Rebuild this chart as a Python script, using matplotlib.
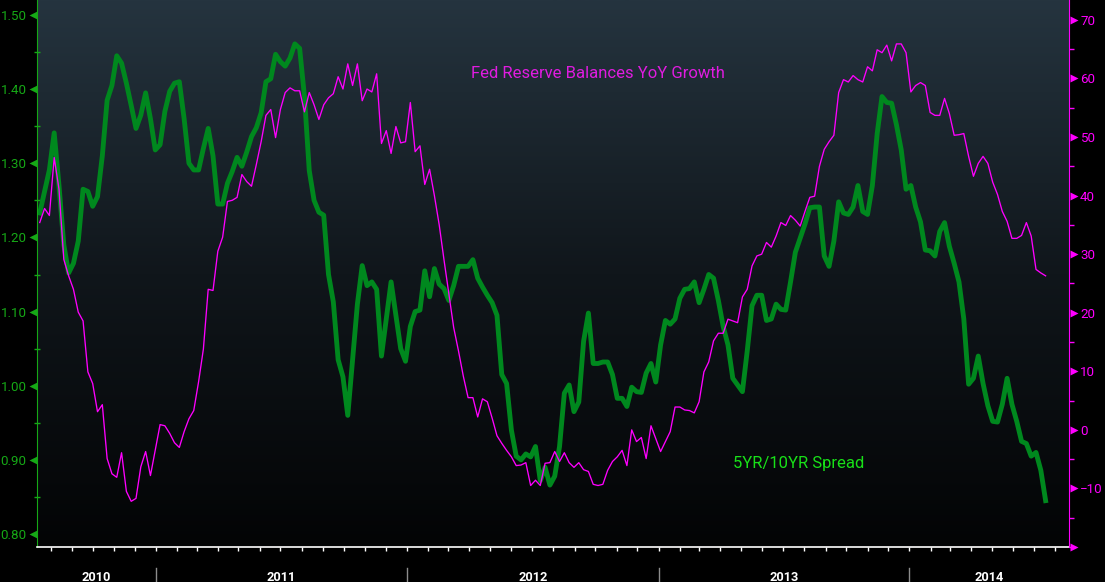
import matplotlib
matplotlib.use('Agg')
import matplotlib.pyplot as plt
import matplotlib.dates as mdates
import matplotlib.transforms as mtransforms
from matplotlib.colors import LinearSegmentedColormap
from matplotlib.ticker import FixedLocator, MultipleLocator, FormatStrFormatter
import numpy as np
import pandas as pd

plt.rcParams['font.family'] = ['Roboto', 'DejaVu Sans']

week_start = '2010-07-16'
n_weeks = 210

spread_5y10y = [
    1.233, 1.262, 1.291, 1.341, 1.27, 1.19, 1.152, 1.165, 1.195, 1.265,
    1.262, 1.242, 1.255, 1.31, 1.385, 1.405, 1.445, 1.435, 1.408, 1.378,
    1.347, 1.365, 1.395, 1.36, 1.318, 1.325, 1.37, 1.397, 1.408, 1.41,
    1.36, 1.30, 1.291, 1.291, 1.32, 1.347, 1.31, 1.245, 1.245, 1.273,
    1.289, 1.308, 1.296, 1.315, 1.336, 1.348, 1.368, 1.41, 1.414, 1.447,
    1.437, 1.431, 1.442, 1.461, 1.455, 1.39, 1.29, 1.25, 1.234, 1.23,
    1.15, 1.113, 1.035, 1.012, 0.96, 1.035, 1.11, 1.162, 1.135, 1.14,
    1.13, 1.04, 1.09, 1.14, 1.095, 1.05, 1.033, 1.08, 1.10, 1.102,
    1.155, 1.12, 1.158, 1.137, 1.131, 1.115, 1.135, 1.161, 1.161, 1.161,
    1.17, 1.145, 1.133, 1.122, 1.112, 1.095, 1.015, 1.003, 0.94, 0.905,
    0.90, 0.908, 0.904, 0.918, 0.872, 0.89, 0.866, 0.878, 0.918, 0.99,
    1.001, 0.965, 0.978, 1.06, 1.098, 1.03, 1.03, 1.032, 1.032, 1.015,
    0.983, 0.983, 0.972, 0.998, 0.992, 0.991, 1.017, 1.03, 1.005, 1.055,
    1.088, 1.083, 1.09, 1.118, 1.13, 1.131, 1.14, 1.112, 1.13, 1.15,
    1.145, 1.115, 1.08, 1.055, 1.01, 1.001, 0.992, 1.047, 1.108, 1.122,
    1.122, 1.088, 1.09, 1.11, 1.103, 1.102, 1.14, 1.18, 1.199, 1.218,
    1.24, 1.241, 1.241, 1.175, 1.161, 1.195, 1.248, 1.233, 1.231, 1.241,
    1.27, 1.235, 1.231, 1.27, 1.34, 1.39, 1.382, 1.381, 1.352, 1.318,
    1.265, 1.27, 1.241, 1.221, 1.183, 1.182, 1.175, 1.208, 1.22, 1.188,
    1.165, 1.14, 1.09, 1.002, 1.01, 1.04, 1.003, 0.973, 0.952, 0.951,
    0.975, 1.01, 0.975, 0.952, 0.925, 0.922, 0.905, 0.91, 0.886, 0.845,
]

fed_balances_yoy = [
    35.4, 37.8, 36.6, 46.5, 41.1, 29.1, 26.3, 24.0, 20.1, 18.6,
    9.9, 7.9, 3.1, 4.3, -4.9, -7.5, -8.1, -3.9, -10.5, -12.2,
    -11.7, -6.3, -3.7, -7.8, -3.5, 0.9, 0.7, -0.6, -2.2, -3.0,
    -0.3, 1.9, 3.3, 8.2, 13.8, 24.0, 23.8, 30.5, 32.9, 39.0,
    39.2, 39.7, 43.6, 42.4, 41.6, 45.3, 49.2, 53.7, 54.7, 49.9,
    54.7, 57.6, 58.4, 57.9, 57.9, 54.3, 57.6, 55.5, 53.0, 55.5,
    56.7, 57.4, 60.3, 58.2, 62.5, 58.8, 62.5, 56.2, 58.2, 57.7,
    60.8, 48.9, 51.1, 47.2, 51.8, 49.0, 49.2, 55.9, 47.5, 48.5,
    41.9, 44.5, 40.0, 35.0, 29.0, 23.2, 17.5, 13.5, 9.2, 5.5,
    5.5, 2.2, 5.3, 4.8, 2.0, -1.0, -2.3, -3.5, -4.6, -6.1,
    -6.0, -5.6, -9.5, -8.6, -9.5, -5.7, -5.6, -3.7, -5.4, -3.9,
    -5.6, -6.4, -5.6, -6.8, -7.1, -9.3, -9.5, -9.3, -6.9, -5.4,
    -4.6, -3.5, -6.1, 0.0, -2.0, -1.3, -4.9, 0.7, -1.5, -3.7,
    -2.0, -0.3, 3.9, 3.9, 3.4, 3.3, 2.9, 4.8, 9.9, 11.6,
    15.2, 16.5, 16.5, 18.9, 18.6, 18.3, 22.7, 24.0, 28.0, 29.7,
    30.0, 32.0, 31.2, 33.1, 35.4, 34.9, 36.6, 35.8, 34.8, 37.3,
    39.7, 39.9, 45.0, 47.9, 49.2, 50.3, 57.6, 59.8, 59.4, 60.5,
    59.8, 59.4, 62.0, 61.3, 64.9, 64.4, 65.7, 63.0, 65.9, 65.9,
    64.4, 57.7, 58.8, 59.3, 58.8, 54.2, 53.7, 53.7, 56.6, 54.0,
    50.3, 50.4, 50.6, 46.7, 43.3, 45.5, 46.7, 45.5, 42.3, 40.2,
    37.3, 35.6, 32.7, 32.7, 33.2, 35.4, 33.1, 27.4, 26.8, 26.3,
]

years = [2010, 2011, 2012, 2013, 2014]
left_ticks = [0.80, 0.90, 1.00, 1.10, 1.20, 1.30, 1.40, 1.50]
right_ticks = [-20, -10, 0, 10, 20, 30, 40, 50, 60, 70]
right_labels = [-10, 0, 10, 20, 30, 40, 50, 60, 70]

dates = pd.date_range(week_start, periods=n_weeks, freq='7D')
x_start = pd.Timestamp('2010-07-12')
x_end = pd.Timestamp('2014-08-21')

green = '#00881e'
green_axis = '#16a816'
magenta = '#ff00ff'

#----figure + gradient background----#
fig = plt.figure(figsize=(11.05, 5.82), dpi=100, facecolor='black')
rect = [37 / 1105, 35 / 582, 1032 / 1105, 547 / 582]

bg = fig.add_axes(rect, zorder=0)
bg_cmap = LinearSegmentedColormap.from_list('bg', ['#030405', '#10161b', '#25343f'])
bg.imshow(np.linspace(1, 0, 256).reshape(-1, 1), cmap=bg_cmap, aspect='auto',
          extent=[0, 1, 0, 1])
bg.axis('off')

ax = fig.add_axes(rect, zorder=1)
ax.patch.set_visible(False)
ax.plot(dates, spread_5y10y, color=green, lw=3.5, solid_joinstyle='round')

ax2 = ax.twinx()
ax2.plot(dates, fed_balances_yoy, color=magenta, lw=0.95, solid_joinstyle='round')

#----spines----#
for s in ['top', 'right']:
    ax.spines[s].set_visible(False)
for s in ['top', 'left', 'bottom']:
    ax2.spines[s].set_visible(False)
ax.spines['left'].set_color(green_axis)
ax.spines['bottom'].set_color('white')
ax.spines['bottom'].set_linewidth(1.2)
ax2.spines['right'].set_color(magenta)

#----left axis----#
ax.yaxis.set_major_locator(FixedLocator(left_ticks))
ax.yaxis.set_major_formatter(FormatStrFormatter('%.2f'))
ax.yaxis.set_minor_locator(MultipleLocator(0.05))
ax.tick_params(axis='y', which='major', length=0, pad=7.5, labelcolor=green_axis,
               labelsize=9.6)
ax.tick_params(axis='y', which='minor', direction='inout', length=4, width=1,
               color=green_axis)

tri_left = mtransforms.offset_copy(
    mtransforms.blended_transform_factory(ax.transAxes, ax.transData),
    fig=fig, x=-4.5, y=0, units='dots')
ax.plot([0] * len(left_ticks), left_ticks, ls='none', marker='<', ms=5.4,
        color=green_axis, mec='none', transform=tri_left, clip_on=False, zorder=5)

#----right axis----#
ax2.yaxis.set_major_locator(FixedLocator(right_labels))
ax2.yaxis.set_minor_locator(MultipleLocator(5))
ax2.tick_params(axis='y', which='major', length=0, pad=8, labelcolor=magenta,
                labelsize=9.6)
ax2.tick_params(axis='y', which='minor', direction='out', length=3.5, width=1,
                color=magenta)

tri_right = mtransforms.offset_copy(
    mtransforms.blended_transform_factory(ax2.transAxes, ax2.transData),
    fig=fig, x=5, y=0, units='dots')
ax2.plot([1] * len(right_ticks), right_ticks, ls='none', marker='>', ms=5.4,
         color=magenta, mec='none', transform=tri_right, clip_on=False)

#----bottom axis: month ticks, year bands----#
ax.xaxis.set_major_locator(mdates.MonthLocator())
ax.tick_params(axis='x', which='major', direction='out', length=3, width=1,
               color='white', labelbottom=False)

trans_x = mtransforms.blended_transform_factory(ax.transData, ax.transAxes)
lo_lim = mdates.date2num(x_start)
hi_lim = mdates.date2num(x_end)
for y in years:
    y0 = mdates.date2num(pd.Timestamp(f'{y}-01-01'))
    y1 = mdates.date2num(pd.Timestamp(f'{y + 1}-01-01'))
    if lo_lim < y0 < hi_lim:
        ax.plot([y0, y0], [-0.038, -0.07], color='#8c8c8c', lw=1,
                transform=trans_x, clip_on=False)
    mid = (max(y0, lo_lim) + min(y1, hi_lim)) / 2
    ax.text(mid, -0.0555, str(y), transform=trans_x, color='white',
            fontsize=9.2, fontweight='bold', ha='center', va='center')

ax.set_xlim(x_start, x_end)
ax.set_ylim(0.7825, 1.5202)
ax2.set_ylim(-20, 73.4)

#----series labels----#
ax.text(0.544, 0.865, 'Fed Reserve Balances YoY Growth', transform=ax.transAxes,
        color='#e01ce0', fontsize=12, ha='center', va='center')
ax.text(0.674, 0.153, '5YR/10YR Spread', transform=ax.transAxes,
        color='#18e018', fontsize=12, ha='left', va='center')

fig.savefig('out.png', dpi=100, facecolor='black')
